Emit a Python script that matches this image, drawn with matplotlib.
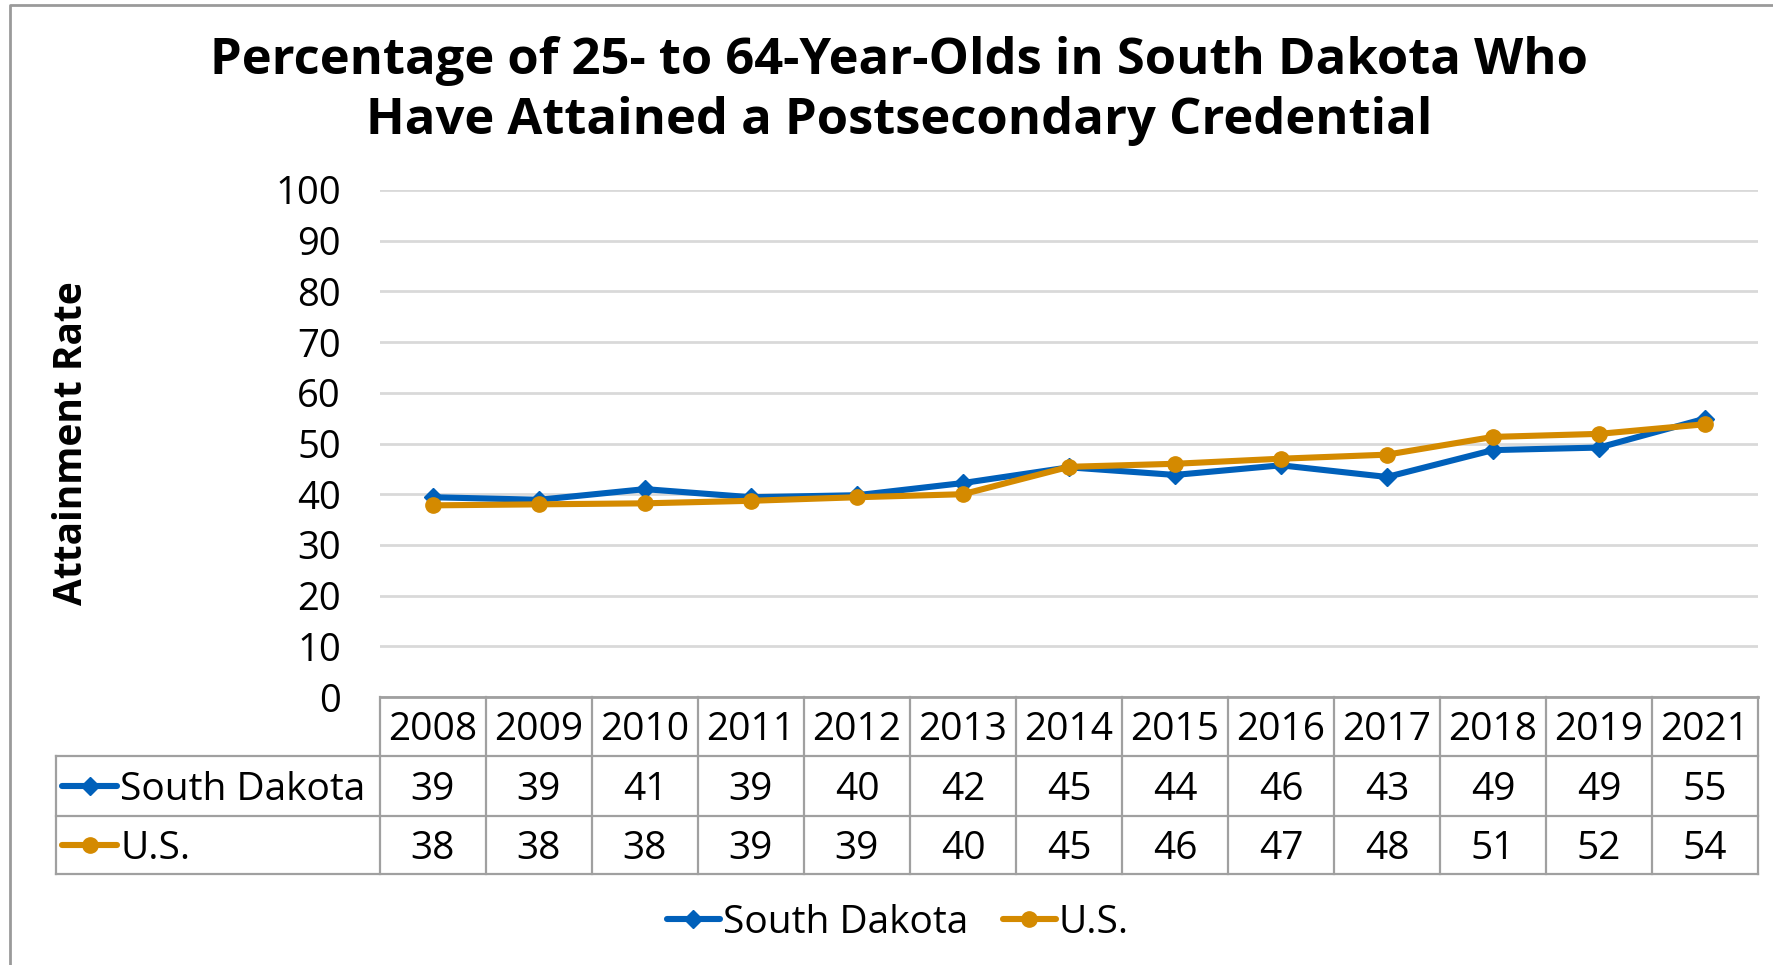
import matplotlib
matplotlib.use("Agg")
import matplotlib.pyplot as plt
import matplotlib.transforms as mtransforms
from matplotlib.lines import Line2D

years = ["2008", "2009", "2010", "2011", "2012", "2013", "2014",
         "2015", "2016", "2017", "2018", "2019", "2021"]
south_dakota = [39.4, 38.9, 41.0, 39.4, 39.8, 42.2, 45.3, 43.8, 45.7, 43.4, 48.7, 49.2, 54.9]
us = [37.8, 38.0, 38.2, 38.7, 39.4, 40.0, 45.4, 46.0, 47.0, 47.8, 51.3, 51.9, 53.8]
sd_table = ["39", "39", "41", "39", "40", "42", "45", "44", "46", "43", "49", "49", "55"]
us_table = ["38", "38", "38", "39", "39", "40", "45", "46", "47", "48", "51", "52", "54"]
series_names = ["South Dakota", "U.S."]
yticks = [0, 10, 20, 30, 40, 50, 60, 70, 80, 90, 100]

title = ("Percentage of 25- to 64-Year-Olds in South Dakota Who\n"
         "Have Attained a Postsecondary Credential")

FONT = ["Open Sans", "DejaVu Sans"]
plt.rcParams['font.family'] = FONT

BLUE = "#0060BA"
ORANGE = "#D48A00"
GRID = "#D9D9D9"
TBL = "#A0A0A0"
LW = 4.4
SD_MS = 9
US_MS = 11

W, H = 1773, 965
fig = plt.figure(figsize=(W / 100, H / 100), dpi=100)

def fx(px):
    return px / W

def fy(py):
    return 1 - py / H

left_px, right_px, top_px, bot_px = 380, 1758, 190, 697
ax = fig.add_axes([fx(left_px), fy(bot_px), fx(right_px) - fx(left_px), fy(top_px) - fy(bot_px)])

n = len(years)
x = list(range(n))
ax.plot(x, south_dakota, color=BLUE, lw=LW, marker="D", ms=SD_MS, zorder=3, solid_joinstyle="round")
ax.plot(x, us, color=ORANGE, lw=LW, marker="o", ms=US_MS, zorder=4, solid_joinstyle="round")

ax.set_xlim(-0.5, n - 0.5)
ax.set_ylim(0, 100)
ax.set_yticks(yticks)
ax.set_yticklabels([str(t) for t in yticks], fontsize=27.5)
ax.tick_params(axis="y", length=0, pad=28)
ax.set_xticks([])
for s in ["top", "right", "left"]:
    ax.spines[s].set_visible(False)
ax.spines["bottom"].set_color(TBL)
ax.spines["bottom"].set_linewidth(2)
ax.yaxis.grid(True, color=GRID, lw=2)
ax.set_axisbelow(True)

# data table beneath the axes: x in data units, y in axes fraction
trans = mtransforms.blended_transform_factory(ax.transData, ax.transAxes)
ah = bot_px - top_px
r0, r1, r2, r3 = 0.0, -59 / ah, -119 / ah, -177 / ah
unit_px = (right_px - left_px) / n
lab_left = -0.5 - (left_px - 56) / unit_px
toff = -4 / ah  # small downward nudge of cell text

def seg(xs, ys):
    ax.add_line(Line2D(xs, ys, transform=trans, color=TBL, lw=1.6, clip_on=False, zorder=1))

seg([lab_left, n - 0.5], [r1, r1])
seg([lab_left, n - 0.5], [r2, r2])
seg([lab_left, n - 0.5], [r3, r3])
for i in range(n + 1):
    seg([i - 0.5, i - 0.5], [r0, r3])
seg([lab_left, lab_left], [r1, r3])

tsize = 28
for i in range(n):
    ax.text(i, (r0 + r1) / 2 + toff, years[i], transform=trans, ha="center", va="center", fontsize=tsize)
    ax.text(i, (r1 + r2) / 2 + toff, sd_table[i], transform=trans, ha="center", va="center", fontsize=tsize)
    ax.text(i, (r2 + r3) / 2 + toff, us_table[i], transform=trans, ha="center", va="center", fontsize=tsize)

# legend keys inside the row-label cells
kx0 = -0.5 - (left_px - 62) / unit_px
key_w = 55 / unit_px
txt_x = -0.5 - (left_px - 120) / unit_px
for (yy, name, col, mk, ms) in [((r1 + r2) / 2, series_names[0], BLUE, "D", SD_MS),
                                ((r2 + r3) / 2, series_names[1], ORANGE, "o", US_MS)]:
    ax.add_line(Line2D([kx0, kx0 + key_w], [yy, yy], transform=trans, color=col, lw=LW,
                       clip_on=False, solid_capstyle="round"))
    ax.add_line(Line2D([kx0 + key_w / 2], [yy], transform=trans, color=col, marker=mk, ms=ms,
                       clip_on=False))
    ax.text(txt_x, yy + toff, name, transform=trans, ha="left", va="center", fontsize=tsize)

# bottom legend
handles = [Line2D([], [], color=BLUE, lw=LW, marker="D", ms=SD_MS, solid_capstyle="round"),
           Line2D([], [], color=ORANGE, lw=LW, marker="o", ms=US_MS, solid_capstyle="round")]
fig.legend(handles, series_names, loc="center", bbox_to_anchor=(fx(898), fy(923)), ncol=2,
           frameon=False, fontsize=tsize, handlelength=1.35, handletextpad=0.08, columnspacing=0.9)

fig.text(fx(899), fy(91), title, ha="center", va="center", fontsize=36.5, fontweight="bold",
         linespacing=1.26)
fig.text(fx(72), fy(443), "Attainment Rate", ha="center", va="center", rotation=90,
         fontsize=28, fontweight="bold")

# outer border (left and top)
fig.add_artist(Line2D([fx(10), fx(10), 1.0], [0.0, fy(5), fy(5)], transform=fig.transFigure,
                      color="#9A9A9A", lw=2))

fig.savefig("out.png", dpi=100)
